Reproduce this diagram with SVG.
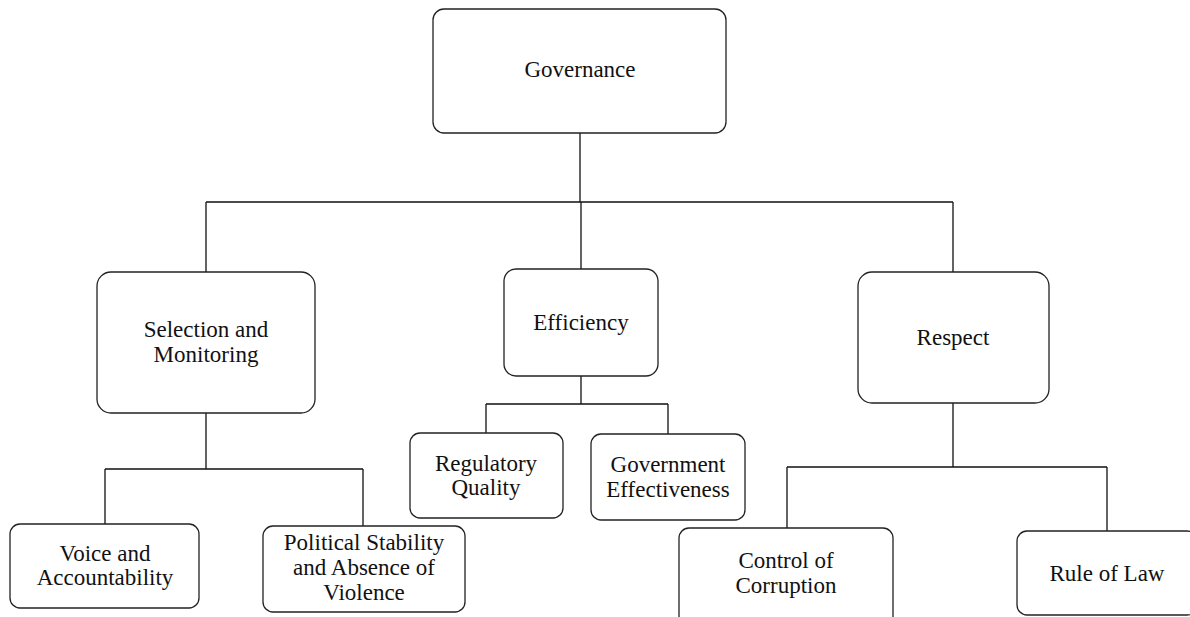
<svg xmlns="http://www.w3.org/2000/svg" width="1190" height="617" viewBox="0 0 1190 617">
<style>
.box{fill:#fff;stroke:#222;stroke-width:1.3}
.lbl{font-family:'Liberation Serif','Times New Roman','DejaVu Serif',serif;font-size:23px;fill:#111;text-anchor:middle}
.con{fill:none;stroke:#111;stroke-width:1.3}
</style>
<rect width="1190" height="617" fill="#fff"/>
<g id="connectors">
<path class="con" d="M580,133 V202 M206,202 H953 M206,202 V272 M581,202 V269 M953,202 V272"/>
<path class="con" d="M206,413 V469 M105,469 H363 M105,469 V524 M363,469 V526"/>
<path class="con" d="M581,376 V404 M486,404 H668 M486,404 V433 M668,404 V434"/>
<path class="con" d="M953,403 V467 M787,467 H1107 M787,467 V528 M1107,467 V531"/>
</g>
<g id="governance">
<rect class="box" x="433" y="9" width="293" height="124" rx="11"/>
<text class="lbl" x="580" y="77">Governance</text>
</g>
<g id="selection">
<rect class="box" x="97" y="272" width="218" height="141" rx="14"/>
<text class="lbl" x="206" y="337">Selection and</text>
<text class="lbl" x="206" y="362">Monitoring</text>
</g>
<g id="efficiency">
<rect class="box" x="504" y="269" width="154" height="107" rx="12"/>
<text class="lbl" x="581" y="330">Efficiency</text>
</g>
<g id="respect">
<rect class="box" x="858" y="272" width="191" height="131" rx="14"/>
<text class="lbl" x="953" y="345">Respect</text>
</g>
<g id="voice">
<rect class="box" x="10" y="524" width="189" height="84" rx="10"/>
<text class="lbl" x="105" y="561">Voice and</text>
<text class="lbl" x="105" y="585">Accountability</text>
</g>
<g id="political">
<rect class="box" x="263" y="526" width="202" height="86" rx="10"/>
<text class="lbl" x="364" y="550">Political Stability</text>
<text class="lbl" x="364" y="575">and Absence of</text>
<text class="lbl" x="364" y="600">Violence</text>
</g>
<g id="regulatory">
<rect class="box" x="410" y="433" width="153" height="85" rx="10"/>
<text class="lbl" x="486" y="471">Regulatory</text>
<text class="lbl" x="486" y="495">Quality</text>
</g>
<g id="government">
<rect class="box" x="591" y="434" width="154" height="86" rx="10"/>
<text class="lbl" x="668" y="472">Government</text>
<text class="lbl" x="668" y="497">Effectiveness</text>
</g>
<g id="corruption">
<rect class="box" x="679" y="528" width="214" height="110" rx="10"/>
<text class="lbl" x="786" y="568">Control of</text>
<text class="lbl" x="786" y="593">Corruption</text>
</g>
<g id="rulelaw">
<rect class="box" x="1017" y="531" width="180" height="84" rx="10"/>
<text class="lbl" x="1107" y="581">Rule of Law</text>
</g>
</svg>
